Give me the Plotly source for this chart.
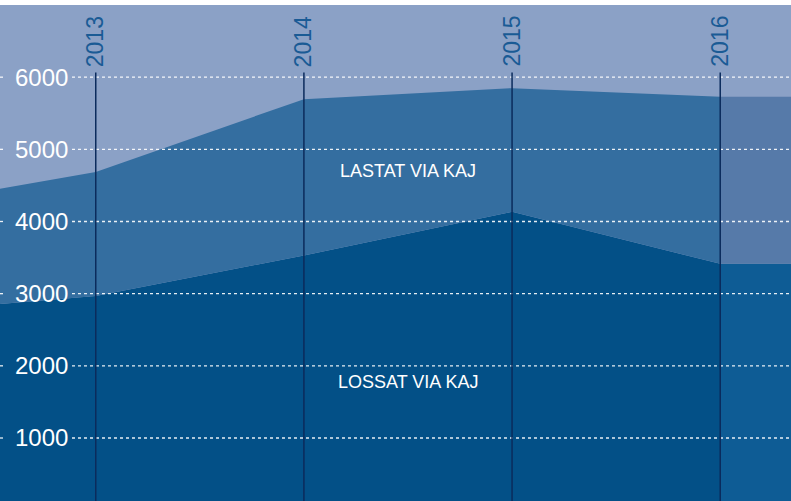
import plotly.graph_objects as go

years = [2012, 2013, 2014, 2015, 2016]
lossat = [2729, 2968, 3528, 4134, 3413]
lastat = [1448, 1719, 2167, 1714, 2315]
ext_years = [2016, 2017]
ext_lossat = [3413, 3413]
ext_lastat = [2315, 2315]
label_years = [2013, 2014, 2015, 2016]
yticks = [1000, 2000, 3000, 4000, 5000, 6000]
series_names = ["LOSSAT VIA KAJ", "LASTAT VIA KAJ"]

BG = "#8ba1c6"
C_LOS = "#035087"
C_LAS = "#346ea0"
C_LOS_EXT = "#0e5c95"
C_LAS_EXT = "#567aa9"
LINE = "#0b2b5c"
YEAR_C = "#1a5b95"
FONT = "Liberation Sans, Arial, sans-serif"

fig = go.Figure()
fig.add_trace(go.Scatter(x=years, y=lossat, stackgroup="main", mode="none",
                         fillcolor=C_LOS, name=series_names[0], hoverinfo="skip"))
fig.add_trace(go.Scatter(x=years, y=lastat, stackgroup="main", mode="none",
                         fillcolor=C_LAS, name=series_names[1], hoverinfo="skip"))
fig.add_trace(go.Scatter(x=ext_years, y=ext_lossat, stackgroup="ext", mode="none",
                         fillcolor=C_LOS_EXT, showlegend=False, hoverinfo="skip"))
fig.add_trace(go.Scatter(x=ext_years, y=ext_lastat, stackgroup="ext", mode="none",
                         fillcolor=C_LAS_EXT, showlegend=False, hoverinfo="skip"))

W = 791
shapes = []
for v in yticks:
    for x0, x1 in [(0, 6 / W), (72 / W, 1)]:
        shapes.append(dict(type="line", xref="paper", yref="y", x0=x0, x1=x1, y0=v, y1=v,
                           line=dict(color="rgba(255,255,255,0.9)", width=1.3, dash="dot"),
                           layer="above"))
for yr in label_years:
    shapes.append(dict(type="line", xref="x", yref="paper", x0=yr, x1=yr, y0=0, y1=0.864,
                       line=dict(color=LINE, width=1.5), layer="above"))

annotations = []
for yr in label_years:
    annotations.append(dict(x=yr, xref="x", y=0.871, yref="paper", text=str(yr),
                            showarrow=False, textangle=-90, xanchor="center", yanchor="bottom",
                            font=dict(family=FONT, size=23, color=YEAR_C)))
annotations.append(dict(x=2014.5, y=4700, text=series_names[1], showarrow=False,
                        font=dict(family=FONT, size=18, color="white")))
annotations.append(dict(x=2014.5, y=1777, text=series_names[0], showarrow=False,
                        font=dict(family=FONT, size=18, color="white")))

fig.update_layout(
    width=791, height=501,
    margin=dict(l=0, r=0, t=5, b=0, pad=0, autoexpand=False),
    paper_bgcolor="white",
    plot_bgcolor=BG,
    showlegend=False,
    shapes=shapes,
    annotations=annotations,
    xaxis=dict(range=[2012.54, 2016.34], showgrid=False, zeroline=False,
               showticklabels=False, ticks="", automargin=False),
    yaxis=dict(range=[127, 7000], showgrid=False, zeroline=False, tickvals=yticks,
               ticktext=[str(v) for v in yticks], ticklabelposition="inside",
               ticks="", ticklabelstandoff=12, automargin=False,
               tickfont=dict(family=FONT, size=24, color="white"), layer="above traces"),
)

fig.write_html("out.html", config={"displayModeBar": False},
               post_script="document.body.style.margin='0';document.body.style.overflow='hidden';")
